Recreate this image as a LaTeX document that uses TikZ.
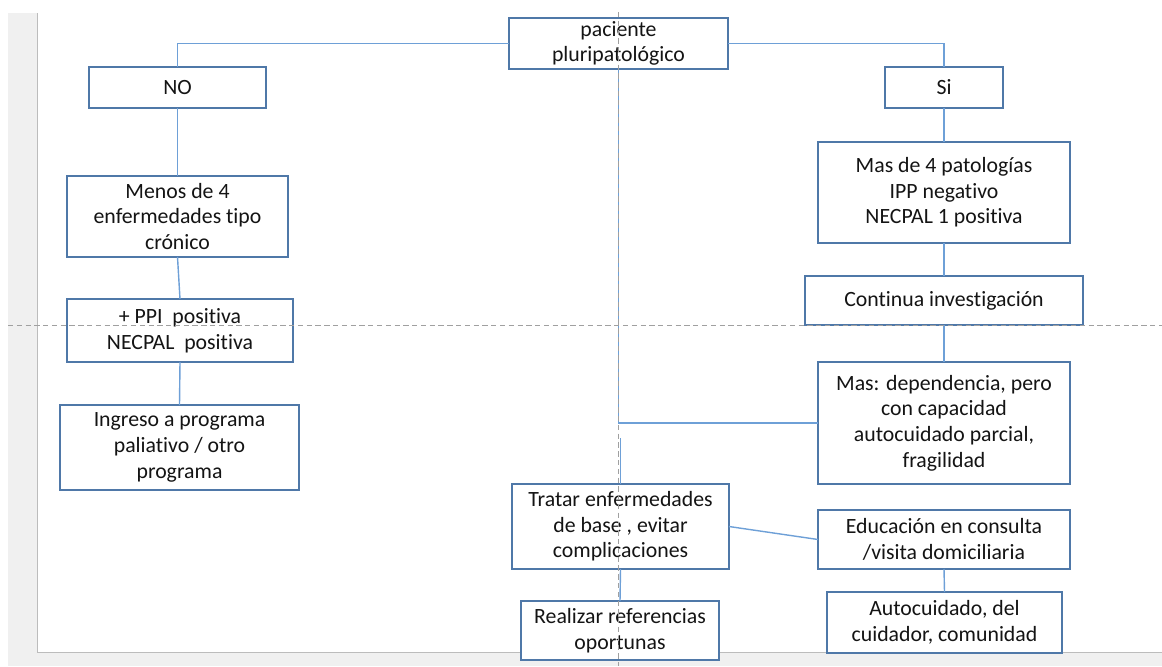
\documentclass[tikz,border=0pt]{standalone}
\usepackage{fontspec}
\setmainfont[Ligatures=NoCommon]{Carlito}
\usepackage{tikz}
\usetikzlibrary{positioning}
\definecolor{boxline}{RGB}{79, 120, 168}
\definecolor{linkblue}{RGB}{110, 160, 215}
\definecolor{guidegray}{RGB}{160, 160, 160}
\definecolor{panelgray}{RGB}{240, 240, 240}
\definecolor{textgray}{RGB}{20, 20, 20}

\begin{document}
\begin{tikzpicture}[x=0.02cm, y=-0.02cm,
    box/.style={draw=boxline, line width=0.8pt, fill=white, align=center,
        inner sep=0pt, outer sep=0pt, text=textgray, font=\fontsize{12.4}{14.6}\selectfont},
    link/.style={draw=linkblue, line width=0.8pt},
    guide/.style={draw=guidegray, line width=0.4pt, dash pattern=on 3pt off 2pt}]
            \useasboundingbox (0,0) rectangle (1162,666);
            % Window frame
            \fill[panelgray] (8,13) rectangle (37,666);
            \draw[guidegray!70] (37,13) -- (37,652);
            \fill[panelgray] (37,652) rectangle (1162,666);
            \draw[guidegray!70] (37,652) -- (1162,652);

            % Boxes
            \node[box, minimum width=4.38cm, minimum height=1.02cm] (pac) at (618.5,43.5) {paciente\\pluripatológico};
            \node[box, minimum width=3.54cm, minimum height=0.82cm] (no) at (177.5,87.5) {NO};
            \node[box, minimum width=2.36cm, minimum height=0.82cm] (si) at (944,87.5) {Si};

            \node[box, minimum width=4.42cm, minimum height=1.62cm] (menos) at (177.5,216.5) {Menos de 4\\enfermedades tipo\\crónico};
            \node[box, minimum width=4.52cm, minimum height=1.26cm] (ppi) at (180,330.5) {+ PPI\ \ positiva\\NECPAL\ \ positiva};
            \node[box, minimum width=4.78cm, minimum height=1.70cm] (ingreso) at (179.5,447.5) {Ingreso a programa\\paliativo / otro\\programa};

            \node[box, minimum width=5.04cm, minimum height=2.02cm] (mas4) at (944,192.5) {Mas de 4 patologías\\IPP negativo\\NECPAL 1 positiva};
            \node[box, minimum width=5.56cm, minimum height=0.98cm] (cont) at (944,300.5) {Continua investigación};
            \node[box, minimum width=5.04cm, minimum height=2.44cm] (dep) at (944,423) {Mas: dependencia, pero\\con capacidad\\autocuidado parcial,\\fragilidad};

            \node[box, minimum width=4.34cm, minimum height=1.70cm] (tratar) at (620.5,526.5) {Tratar enfermedades\\de base , evitar\\complicaciones};
            \node[box, minimum width=3.96cm, minimum height=1.18cm] (realizar) at (620,630.5) {Realizar referencias\\oportunas};
            \node[box, minimum width=5.04cm, minimum height=1.18cm] (educ) at (944,539.5) {Educación en consulta\\/visita domiciliaria};
            \node[box, minimum width=4.70cm, minimum height=1.22cm] (auto) at (944.5,622.5) {Autocuidado, del\\cuidador, comunidad};

            % Connecting lines
            \draw[link] (pac.west) -| (no.north);
            \draw[link] (pac.east) -| (si.north);
            \draw[link] (no.south) -- (menos.north);
            \draw[link] (menos.south) -- (ppi.north);
            \draw[link] (ppi.south) -- (ingreso.north);
            \draw[link] (si.south) -- (mas4.north);
            \draw[link] (mas4.south) -- (cont.north);
            \draw[link] (cont.south) -- (dep.north);
            \draw[link] (dep.west) -| (pac.south);
            \coordinate (stub) at (620.5,438);
            \draw[link] (stub) -- (tratar.north);
            \draw[link] (tratar.south) -- (realizar.north);
            \draw[link] (tratar.east) -- (educ.west);
            \draw[link] (educ.south) -- (auto.north);

            % Guides
            \draw[guide] (8,325) -- (1162,325);
            \draw[guide] (618.5,12) -- (618.5,666);
        \end{tikzpicture}
\end{document}
